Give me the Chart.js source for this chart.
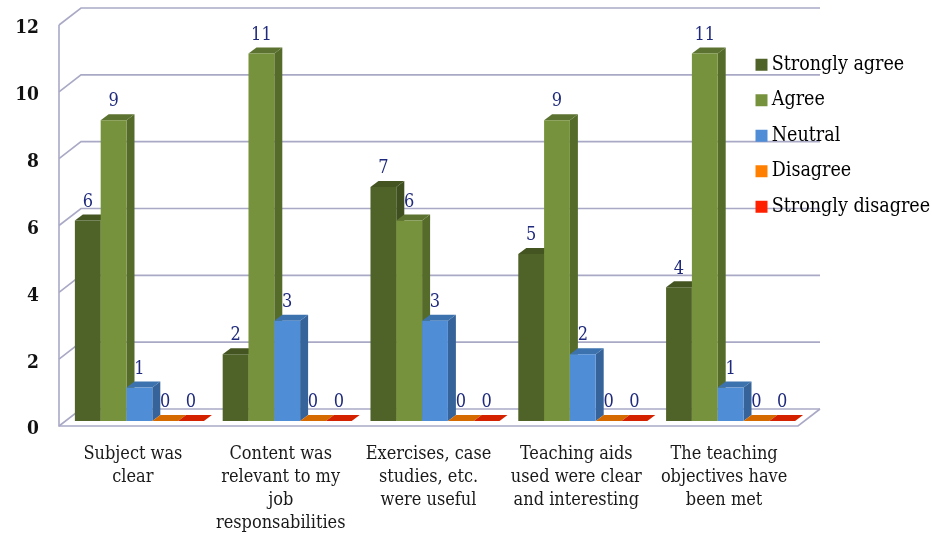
<!DOCTYPE html>
<html>
<head>
<meta charset="utf-8">
<title>Course evaluation</title>
<script src="https://cdn.jsdelivr.net/npm/chart.js@4"></script>
<style>
  html, body { margin: 0; padding: 0; background: #fff; }
  canvas { display: block; }
</style>
</head>
<body>
<canvas id="feedbackChart" width="932" height="534"></canvas>
<script>
// Data
const categories = [
  ["Subject was", "clear"],
  ["Content was", "relevant to my", "job", "responsabilities"],
  ["Exercises, case", "studies, etc.", "were useful"],
  ["Teaching aids", "used were clear", "and interesting"],
  ["The teaching", "objectives have", "been met"],
];
const seriesNames = ["Strongly agree", "Agree", "Neutral", "Disagree", "Strongly disagree"];
const stronglyAgree = [6, 2, 7, 5, 4];
const agree = [9, 11, 6, 9, 11];
const neutral = [1, 3, 3, 2, 1];
const disagree = [0, 0, 0, 0, 0];
const stronglyDisagree = [0, 0, 0, 0, 0];
const seriesValues = [stronglyAgree, agree, neutral, disagree, stronglyDisagree];

// Colours: front, side, top, legend swatch
const frontColors = ["#4f6228", "#76923c", "#4f8dd6", "#d46a00", "#cc2000"];
const sideColors = ["#404f20", "#556b29", "#36649a", "#a85400", "#a01900"];
const topColors = ["#445522", "#5c7230", "#3c72ad", "#d46a00", "#d42200"];
const legendColors = ["#4f6228", "#76923c", "#4f8dd6", "#ff8000", "#ff2000"];

const serif = "'DejaVu Serif Condensed', 'Liberation Serif', serif";
const gridColor = "#a9a9c6";

// Offsets of the fake 3D: wall depth and the bars' place inside it
const wallDx = 22, wallDy = 17;
const barDx = 6.5, barDy = -5;
const boxDx = 8, boxDy = 6;

const wallPlugin = {
  id: "wall",
  beforeDraw(chart) {
    const { ctx, chartArea, scales } = chart;
    ctx.save();
    ctx.fillStyle = "#ffffff";
    ctx.fillRect(0, 0, chart.width, chart.height);
    ctx.strokeStyle = gridColor;
    ctx.lineWidth = 1.6;
    scales.y.ticks.forEach((tick) => {
      const y = scales.y.getPixelForValue(tick.value);
      ctx.beginPath();
      ctx.moveTo(chartArea.left, y);
      ctx.lineTo(chartArea.left + wallDx, y - wallDy);
      ctx.lineTo(chartArea.right + wallDx, y - wallDy);
      ctx.stroke();
    });
    // left wall edge and floor front
    ctx.beginPath();
    ctx.moveTo(chartArea.left, chartArea.top);
    ctx.lineTo(chartArea.left, chartArea.bottom);
    ctx.lineTo(chartArea.right, chartArea.bottom);
    ctx.lineTo(chartArea.right + wallDx, chartArea.bottom - wallDy);
    ctx.stroke();
    ctx.restore();

    // put the legend where it sits over the plot
    const legend = chart.legend;
    legend.left = 745;
    legend.right = 932;
    legend.top = 39;
    legend.bottom = 300;
  },
};

const barBoxPlugin = {
  id: "barBox",
  // bars are painted first series first, so each front covers the side before it
  beforeDatasetsDraw(chart) {
    const ctx = chart.ctx;
    ctx.save();
    ctx.translate(barDx, barDy);
    seriesValues.forEach((values, i) => {
      const meta = chart.getDatasetMeta(i);
      meta.data.forEach((bar) => {
        const left = bar.x - bar.width / 2;
        const right = bar.x + bar.width / 2;
        ctx.fillStyle = sideColors[i];
        ctx.beginPath();
        ctx.moveTo(right, bar.y);
        ctx.lineTo(right + boxDx, bar.y - boxDy);
        ctx.lineTo(right + boxDx, bar.base - boxDy);
        ctx.lineTo(right, bar.base);
        ctx.fill();
        ctx.fillStyle = topColors[i];
        ctx.beginPath();
        ctx.moveTo(left, bar.y);
        ctx.lineTo(left + boxDx, bar.y - boxDy);
        ctx.lineTo(right + boxDx, bar.y - boxDy);
        ctx.lineTo(right, bar.y);
        ctx.fill();
      });
      meta.controller.draw();
    });
    ctx.restore();
    return false;
  },
  afterDraw(chart) {
    const ctx = chart.ctx;
    ctx.save();
    ctx.fillStyle = "#1f2a7c";
    ctx.font = "18px " + serif;
    ctx.textAlign = "center";
    ctx.textBaseline = "middle";
    seriesValues.forEach((values, i) => {
      chart.getDatasetMeta(i).data.forEach((bar, j) => {
        ctx.fillText(values[j], bar.x + barDx, bar.y + barDy - 18.5);
      });
    });
    ctx.restore();
  },
};

new Chart(document.getElementById("feedbackChart"), {
  type: "bar",
  data: {
    labels: categories,
    datasets: seriesNames.map((name, i) => ({
      label: name,
      data: seriesValues[i],
      backgroundColor: frontColors[i],
      borderWidth: 0,
      categoryPercentage: 0.873,
      barPercentage: 1,
    })),
  },
  options: {
    responsive: false,
    animation: false,
    layout: { padding: { top: 25, right: 134, left: 0, bottom: 0 } },
    plugins: {
      tooltip: { enabled: false },
      legend: {
        position: "chartArea",
        align: "start",
        labels: {
          usePointStyle: true,
          pointStyle: "rect",
          boxWidth: 1,
          boxHeight: 12,
          padding: 16,
          color: "#1a1a1a",
          font: { family: serif, size: 19.5 },
          generateLabels: (chart) =>
            seriesNames.map((name, i) => ({
              text: name,
              fillStyle: legendColors[i],
              strokeStyle: legendColors[i],
              lineWidth: 0,
              pointStyle: "rect",
              datasetIndex: i,
            })),
        },
      },
    },
    scales: {
      x: {
        grid: { display: false },
        border: { display: false },
        afterFit(scale) { scale.height = 108; },
        ticks: {
          maxRotation: 0,
          minRotation: 0,
          autoSkip: false,
          padding: 9,
          color: "#1a1a1a",
          font: { family: serif, size: 18, lineHeight: 1.28 },
        },
      },
      y: {
        min: 0,
        max: 12,
        grid: { display: false },
        border: { display: false },
        afterFit(scale) { scale.width = 59; },
        ticks: {
          stepSize: 2,
          padding: 12,
          color: "#111111",
          // blank first line nudges the number just under its gridline
          callback: (value) => ["", String(value)],
          font: { family: serif, size: 19, weight: "bold", lineHeight: "7px" },
        },
      },
    },
  },
  plugins: [wallPlugin, barBoxPlugin],
});
</script>
</body>
</html>
